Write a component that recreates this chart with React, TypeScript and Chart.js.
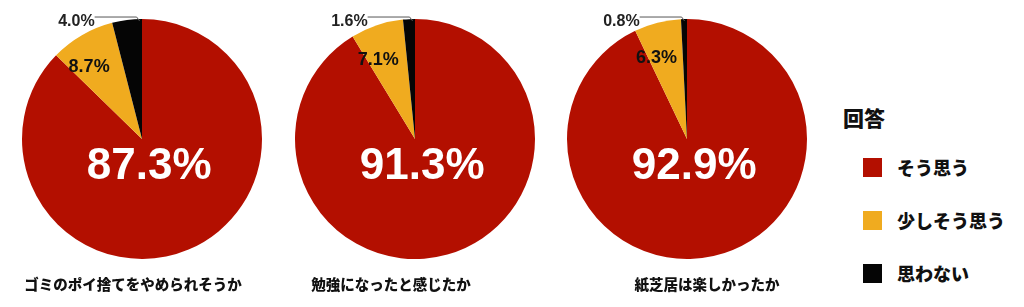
import React, { useEffect, useRef } from "react";
import { Chart, registerables } from "chart.js";

Chart.register(...registerables);

const categories = ["そう思う", "少しそう思う", "思わない"];
const questions = ["ゴミのポイ捨てをやめられそうか", "勉強になったと感じたか", "紙芝居は楽しかったか"];
const q1Values = [87.3, 8.7, 4.0];
const q2Values = [91.3, 7.1, 1.6];
const q3Values = [92.9, 6.3, 0.8];
const legendTitle = "回答";

const seriesValues = [q1Values, q2Values, q3Values];
const COLORS = ["#B30F00", "#F0AB1F", "#050505"];

// layout
const PIE_CX = [142, 415, 687];
const CANVAS_W = 272;
const CANVAS_H = 307;
const TITLE_SHIFT = [-9, -24, 20];

const labelPlugin = {
  id: "sliceLabels",
  afterDraw(chart: any) {
    const ctx = chart.ctx as CanvasRenderingContext2D;
    const meta = chart.getDatasetMeta(0);
    const data = chart.data.datasets[0].data as number[];
    const opts = chart.options.plugins.sliceLabels || {};
    ctx.save();
    meta.data.forEach((arc: any, i: number) => {
      const p = arc.getProps(["x", "y", "startAngle", "endAngle", "outerRadius"], true);
      const mid = (p.startAngle + p.endAngle) / 2;
      const r = p.outerRadius;
      const txt = data[i].toFixed(1) + "%";
      if (i === 0) {
        ctx.fillStyle = "#ffffff";
        ctx.font = "bold 44px 'Liberation Sans', Arial, sans-serif";
        ctx.textAlign = "center";
        ctx.textBaseline = "middle";
        ctx.fillText(txt, p.x + 0.06 * r, p.y + 0.23 * r);
      } else if (i === 1) {
        ctx.fillStyle = "#111111";
        ctx.font = "bold 18px 'Liberation Sans', Arial, sans-serif";
        ctx.textAlign = "center";
        ctx.textBaseline = "middle";
        ctx.fillText(txt, p.x + Math.cos(mid) * 0.73 * r - 9, p.y + Math.sin(mid) * 0.73 * r + 4);
      } else {
        const a = p.endAngle - 0.02;
        const ex = p.x + Math.cos(a) * (r - 2);
        const ey = p.y + Math.sin(a) * (r - 2);
        const kx = ex - 3;
        const ky = ey - 4;
        const lx = kx - 42;
        ctx.strokeStyle = "#555555";
        ctx.lineWidth = 1;
        ctx.beginPath();
        ctx.moveTo(ex, ey);
        ctx.lineTo(kx, ky);
        ctx.lineTo(lx, ky);
        ctx.stroke();
        ctx.fillStyle = "#222222";
        ctx.font = "bold 16px 'Liberation Sans', Arial, sans-serif";
        ctx.textAlign = "right";
        ctx.textBaseline = "middle";
        ctx.fillText(txt, lx, ky + 5);
      }
    });
    if (opts.title) {
      ctx.fillStyle = "#111111";
      ctx.font = "900 14.5px 'Noto Sans CJK JP', sans-serif";
      ctx.textAlign = "center";
      ctx.textBaseline = "middle";
      ctx.fillText(opts.title, chart.width / 2 + (opts.titleShift || 0), 284);
    }
    ctx.restore();
  },
};

function PieChart({ index }: { index: number }) {
  const ref = useRef<HTMLCanvasElement>(null);
  useEffect(() => {
    if (!ref.current) return;
    const chart = new Chart(ref.current, {
      type: "pie",
      data: {
        labels: categories,
        datasets: [
          {
            data: seriesValues[index],
            backgroundColor: COLORS,
            borderWidth: 0,
          },
        ],
      },
      options: {
        animation: false,
        responsive: false,
        devicePixelRatio: 1,
        layout: { padding: { top: 19, bottom: 48, left: 16, right: 16 } },
        plugins: {
          legend: { display: false },
          tooltip: { enabled: false },
          // @ts-ignore
          sliceLabels: { title: questions[index], titleShift: TITLE_SHIFT[index] },
        },
      } as any,
      plugins: [labelPlugin],
    });
    return () => chart.destroy();
  }, [index]);
  return (
    <canvas
      ref={ref}
      width={CANVAS_W}
      height={CANVAS_H}
      style={{
        position: "absolute",
        left: PIE_CX[index] - CANVAS_W / 2,
        top: 0,
        width: CANVAS_W,
        height: CANVAS_H,
      }}
    />
  );
}

export default function App() {
  const legendY = [167, 220, 273];
  return (
    <div
      style={{
        position: "fixed",
        left: 0,
        top: 0,
        width: 1024,
        height: 307,
        background: "#ffffff",
        overflow: "hidden",
      }}
    >
      {[0, 1, 2].map((i) => (
        <PieChart key={i} index={i} />
      ))}
      <div
        style={{
          position: "absolute",
          left: 843,
          top: 117 - 15,
          height: 30,
          lineHeight: "30px",
          fontFamily: "'Noto Sans CJK JP', sans-serif",
          fontWeight: 900,
          fontSize: 21,
          color: "#111",
          whiteSpace: "nowrap",
        }}
      >
        {legendTitle}
      </div>
      {categories.map((c, i) => (
        <div key={c}>
          <div
            style={{
              position: "absolute",
              left: 863,
              top: legendY[i] - 9.5,
              width: 19,
              height: 19,
              background: COLORS[i],
            }}
          />
          <div
            style={{
              position: "absolute",
              left: 897,
              top: legendY[i] - 14,
              height: 28,
              lineHeight: "28px",
              fontFamily: "'Noto Sans CJK JP', sans-serif",
              fontWeight: 900,
              fontSize: 18,
              color: "#111",
              whiteSpace: "nowrap",
            }}
          >
            {c}
          </div>
        </div>
      ))}
    </div>
  );
}
